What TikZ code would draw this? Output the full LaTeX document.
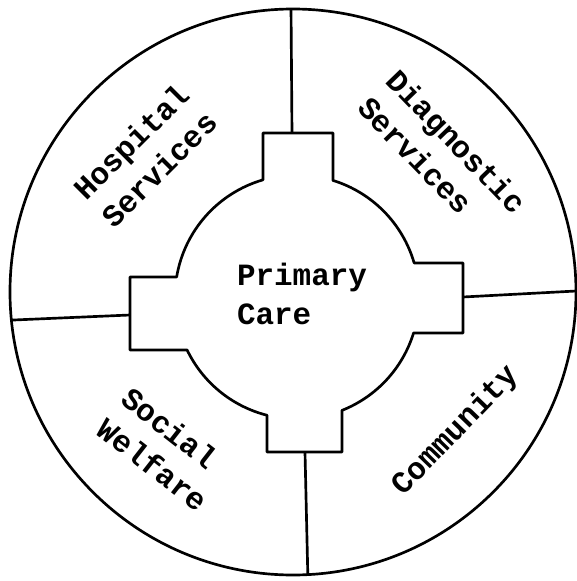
\documentclass[tikz,border=0pt]{standalone}
\usepackage{fontspec}
\setmonofont{Liberation Mono}
\usepackage{tikz}
\usetikzlibrary{calc}

\begin{document}
\begin{tikzpicture}[x=0.025cm,y=0.025cm,
    rimline/.style={line width=1.9pt, line join=round},
    sectortext/.style={font=\ttfamily\bfseries\fontsize{22}{28}\selectfont, inner sep=0pt}]
  \useasboundingbox (-297,-284) rectangle (280,297);
  % Outer ring
  \coordinate (O) at (-4,5);
  \draw[rimline] (O) circle (283);
  % Primary care hub with four tabs
  \draw[rimline] (-34,164) -- (36,164) -- (72.84:122)
     arc[start angle=72.84, end angle=16.18, radius=122]
     -- (166,34) -- (166,-36) -- (-17.16:122)
     arc[start angle=-17.16, end angle=-68.36, radius=122]
     -- (45,-155) -- (-30,-155) -- (-104.24:122)
     arc[start angle=-104.24, end angle=-154.25, radius=122]
     -- (-167,-53) -- (-167,20) -- (-189.44:122)
     arc[start angle=-189.44, end angle=-253.82, radius=122]
     -- cycle;
  % Dividers
  \coordinate (tabN) at (-5,164);
  \coordinate (tabE) at (166,0);
  \coordinate (tabS) at (8,-155);
  \coordinate (tabW) at (-167,-18);
  \coordinate (rimN) at ($(O)+(90.4:283)$);
  \coordinate (rimE) at ($(O)+(0.2:283)$);
  \coordinate (rimS) at ($(O)+(273:283)$);
  \coordinate (rimW) at ($(O)+(185.7:283)$);
  \draw[rimline] (tabN) -- (rimN);
  \draw[rimline] (tabE) -- (rimE);
  \draw[rimline] (tabS) -- (rimS);
  \draw[rimline] (tabW) -- (rimW);
  % Labels
  \node[sectortext, align=left] (primary) at (5,3) {Primary\\Care};
  \node[sectortext, rotate=45, align=center] (hospital) at (-152,141.5) {Hospital\\Services};
  \node[sectortext, rotate=-46, align=left] (diagnostic) at (145.7,142.1) {Diagnostic\\Services};
  \node[sectortext, rotate=-38, align=left] (welfare) at (-132,-152) {Social\\Welfare};
  \node[sectortext, rotate=46] (community) at (159,-134) {Community};
\end{tikzpicture}
\end{document}
